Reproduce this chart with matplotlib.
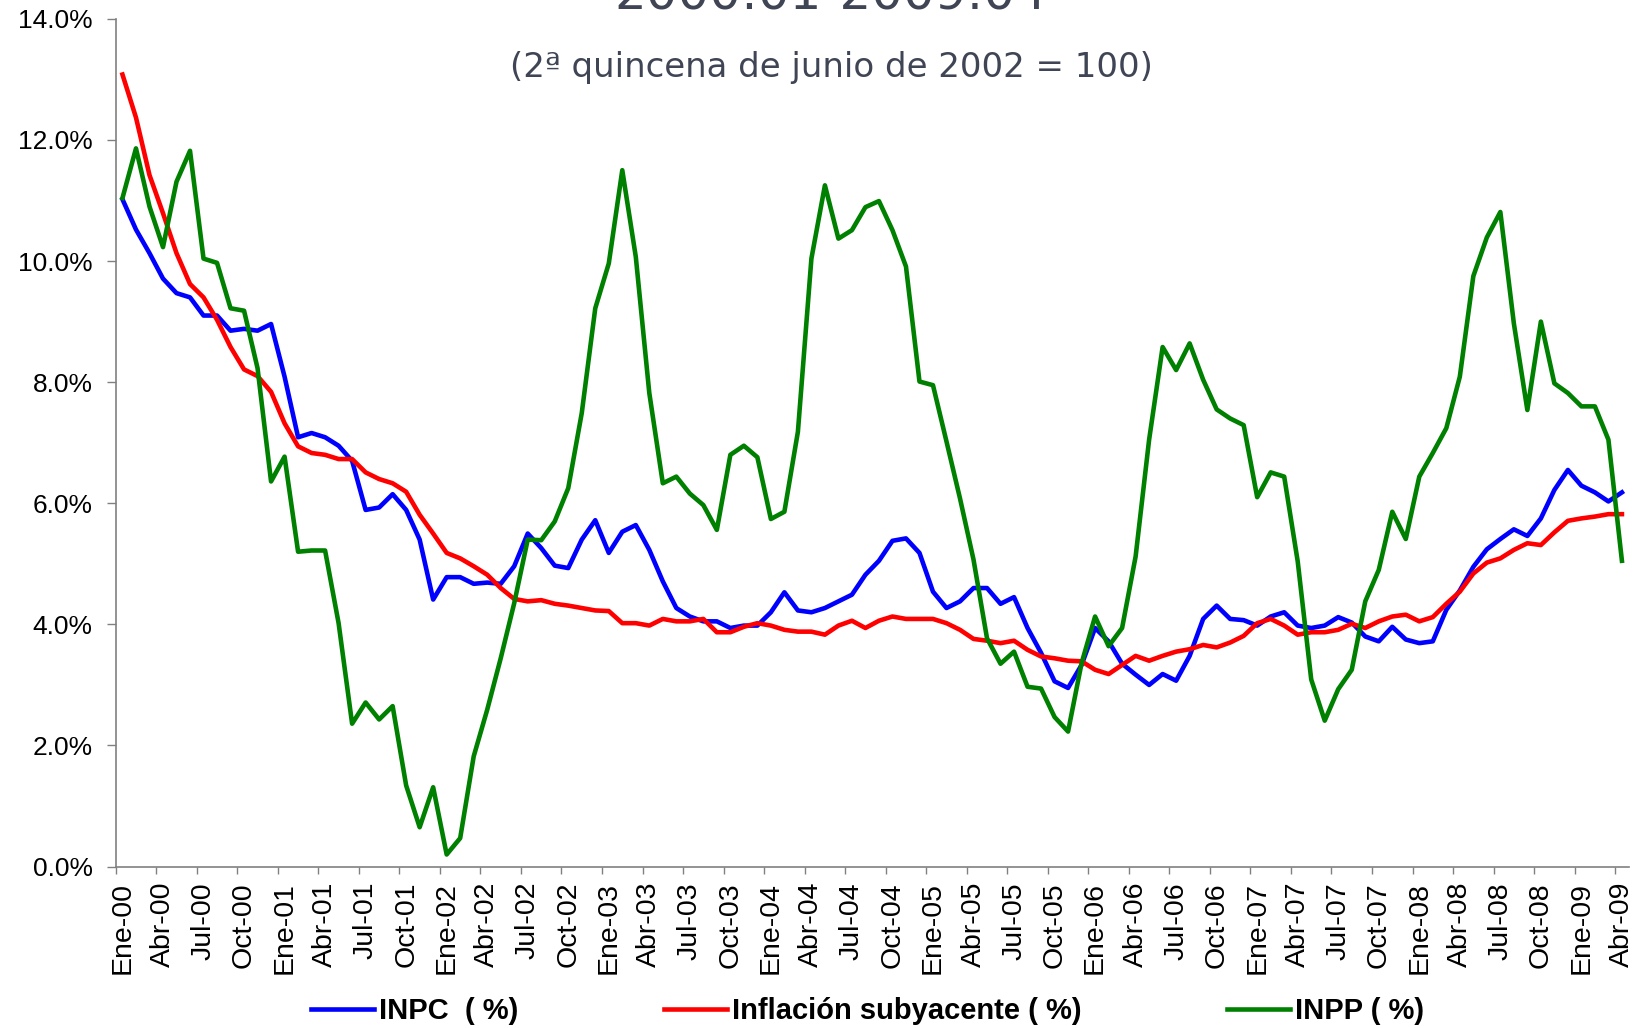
import numpy as np
import matplotlib
matplotlib.use('Agg')
from matplotlib import pyplot as plt

# etiquetas trimestrales del eje x (Ene-00 ... Abr-09)
etiquetas = ['Ene-00', 'Abr-00', 'Jul-00', 'Oct-00', 'Ene-01', 'Abr-01', 'Jul-01', 'Oct-01',
             'Ene-02', 'Abr-02', 'Jul-02', 'Oct-02', 'Ene-03', 'Abr-03', 'Jul-03', 'Oct-03',
             'Ene-04', 'Abr-04', 'Jul-04', 'Oct-04', 'Ene-05', 'Abr-05', 'Jul-05', 'Oct-05',
             'Ene-06', 'Abr-06', 'Jul-06', 'Oct-06', 'Ene-07', 'Abr-07', 'Jul-07', 'Oct-07',
             'Ene-08', 'Abr-08', 'Jul-08', 'Oct-08', 'Ene-09', 'Abr-09']

# inflacion anual mensual, 2000:01 - 2009:04 (%)
inpc = [11.02, 10.52, 10.13, 9.71, 9.47, 9.40, 9.10, 9.10, 8.85, 8.88, 8.85, 8.96,
        8.09, 7.09, 7.16, 7.09, 6.95, 6.70, 5.89, 5.93, 6.15, 5.89, 5.40, 4.41,
        4.78, 4.78, 4.67, 4.69, 4.67, 4.96, 5.50, 5.26, 4.97, 4.93, 5.40, 5.72,
        5.18, 5.53, 5.64, 5.23, 4.71, 4.27, 4.13, 4.05, 4.05, 3.94, 3.98, 3.98,
        4.20, 4.53, 4.23, 4.20, 4.27, 4.38, 4.49, 4.82, 5.05, 5.38, 5.42, 5.18,
        4.54, 4.27, 4.38, 4.60, 4.60, 4.34, 4.45, 3.94, 3.53, 3.06, 2.95, 3.33,
        3.94, 3.72, 3.35, 3.17, 3.00, 3.18, 3.07, 3.48, 4.09, 4.31, 4.09, 4.07,
        3.98, 4.13, 4.20, 3.98, 3.94, 3.98, 4.12, 4.03, 3.80, 3.72, 3.96, 3.75,
        3.69, 3.72, 4.24, 4.56, 4.95, 5.24, 5.41, 5.57, 5.46, 5.75, 6.22, 6.55,
        6.29, 6.18, 6.03, 6.18]

subyacente = [13.08, 12.37, 11.42, 10.79, 10.13, 9.62, 9.40, 9.03, 8.58, 8.21, 8.10, 7.84,
              7.32, 6.94, 6.83, 6.80, 6.73, 6.73, 6.51, 6.40, 6.33, 6.19, 5.81, 5.50,
              5.18, 5.09, 4.96, 4.82, 4.60, 4.42, 4.38, 4.40, 4.34, 4.31, 4.27, 4.23,
              4.22, 4.02, 4.02, 3.98, 4.09, 4.05, 4.05, 4.09, 3.87, 3.87, 3.96, 4.02,
              3.98, 3.91, 3.88, 3.88, 3.83, 3.98, 4.06, 3.94, 4.06, 4.13, 4.09, 4.09,
              4.09, 4.02, 3.91, 3.76, 3.73, 3.69, 3.73, 3.58, 3.47, 3.44, 3.40, 3.39,
              3.25, 3.18, 3.33, 3.48, 3.40, 3.48, 3.55, 3.59, 3.66, 3.62, 3.70, 3.81,
              4.02, 4.09, 3.98, 3.83, 3.87, 3.87, 3.91, 4.01, 3.94, 4.05, 4.13, 4.16,
              4.05, 4.12, 4.34, 4.54, 4.84, 5.02, 5.09, 5.23, 5.34, 5.31, 5.52, 5.71,
              5.75, 5.78, 5.82, 5.82]

inpp = [11.04, 11.86, 10.90, 10.23, 11.31, 11.82, 10.04, 9.97, 9.22, 9.18, 8.23, 6.36,
        6.77, 5.20, 5.22, 5.22, 4.02, 2.36, 2.71, 2.43, 2.65, 1.34, 0.65, 1.31,
        0.20, 0.47, 1.82, 2.59, 3.44, 4.35, 5.40, 5.39, 5.70, 6.25, 7.49, 9.22,
        9.96, 11.50, 10.07, 7.82, 6.33, 6.44, 6.16, 5.97, 5.56, 6.80, 6.95, 6.76,
        5.74, 5.86, 7.18, 10.04, 11.25, 10.37, 10.51, 10.89, 10.99, 10.51, 9.91, 8.01,
        7.95, 7.02, 6.08, 5.07, 3.77, 3.35, 3.55, 2.97, 2.94, 2.47, 2.23, 3.36,
        4.13, 3.64, 3.94, 5.12, 7.05, 8.58, 8.20, 8.64, 8.04, 7.55, 7.40, 7.29,
        6.10, 6.51, 6.44, 5.04, 3.09, 2.41, 2.93, 3.25, 4.38, 4.90, 5.86, 5.41,
        6.44, 6.83, 7.24, 8.09, 9.75, 10.39, 10.81, 8.97, 7.54, 9.00, 7.98, 7.82,
        7.60, 7.60, 7.05, 5.05]

plt.rcParams['font.family'] = ['Liberation Sans', 'DejaVu Sans']

fig = plt.figure(figsize=(16.39, 10.28), dpi=100)
ax = fig.add_axes([0.0706, 0.157, 0.9231, 0.8247])

x = np.arange(len(inpc))
ax.plot(x, inpc, color='#0000FF', lw=3.3, label='INPC  ( %)')
ax.plot(x, subyacente, color='#FF0000', lw=3.3, label='Inflación subyacente ( %)')
ax.plot(x, inpp, color='#008000', lw=3.3, label='INPP ( %)')

ax.set_xlim(-0.5, len(inpc) - 0.5)
ax.set_ylim(0, 14)
yt = np.arange(0, 15, 2)
ax.set_yticks(yt)
ax.set_yticklabels(['%.1f%%' % v for v in yt])
ax.set_xticks(x[::3])
ax.set_xticklabels(etiquetas, rotation=90)
ax.set_xticks(np.arange(-0.5, len(inpc), 3), minor=True)
ax.tick_params(axis='x', which='major', length=0, pad=11, labelsize=20.5)
ax.tick_params(axis='x', which='minor', length=5, width=1, color='#808080')
ax.tick_params(axis='y', length=6.5, width=1, color='#808080', pad=10, labelsize=19)

for s in ['top', 'right']:
    ax.spines[s].set_visible(False)
for s in ['left', 'bottom']:
    ax.spines[s].set_color('#808080')
    ax.spines[s].set_linewidth(1.2)

# titulo (cortado arriba en el original) y subtitulo
fig.text(0.507, 1 - 10 / 1028, '2000:01-2009:04', ha='center', va='baseline',
         fontsize=36, color='#404555', family='DejaVu Sans')
fig.text(0.507, 1 - 68 / 1028, '(2ª quincena de junio de 2002 = 100)', ha='center',
         va='center', fontsize=24.5, color='#404555', family='DejaVu Sans')

fig.legend(loc='center left', bbox_to_anchor=(311 / 1639, 1 - 1011 / 1028), ncol=3,
           frameon=False, borderpad=0, borderaxespad=0, handlelength=2.15,
           handletextpad=0.17, columnspacing=5.0,
           prop={'family': 'Liberation Sans', 'weight': 'bold', 'size': 21})

plt.savefig('out.png', dpi=100)
